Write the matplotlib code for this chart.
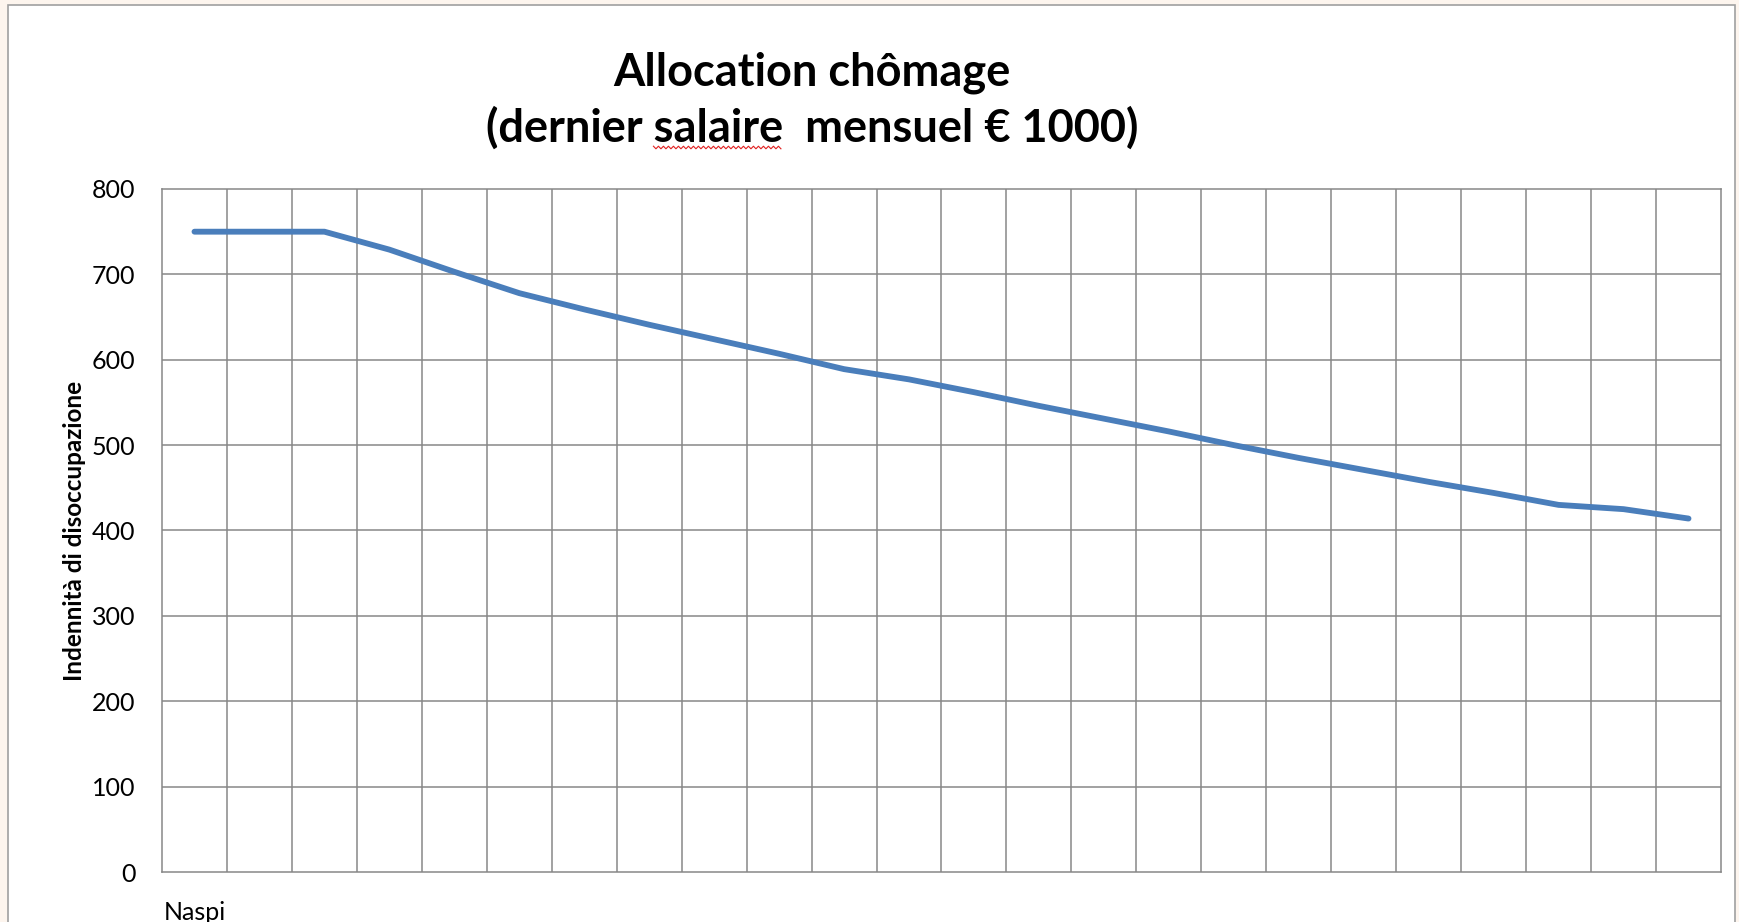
#!/usr/bin/env python
# -*- coding: utf-8 -*-

'''
    Allocation chomage (Naspi) - monthly benefit over 24 months
    for a last monthly salary of 1000 EUR.
'''

import numpy as np
import matplotlib
matplotlib.use("Agg")
import matplotlib.pyplot as plt
from matplotlib.patches import Rectangle

# Chart data
months = list(range(24))
benefit = [750, 750, 750, 729, 703, 678, 659, 641, 624, 607, 589, 577,
           562, 546, 531, 516, 500, 485, 471, 457, 444, 430, 425, 414]
x_labels = ["Naspi"] + [""] * 23
y_ticks = [0, 100, 200, 300, 400, 500, 600, 700, 800]

title_lines = ["Allocation chômage", "(dernier salaire  mensuel € 1000)"]
y_label = "Indennità di disoccupazione"


def main():

    plt.rcParams['font.family'] = ['Lato', 'DejaVu Sans']

    W, H = 1739, 922
    fig = plt.figure(figsize=(W / 100, H / 100), dpi=100)
    fig.patch.set_facecolor("#FDF5EE")

    # white chart area with grey frame
    frame = Rectangle((8 / W, -0.05), (1735 - 8) / W, 1.05 - 5 / H,
                      transform=fig.transFigure, facecolor="white",
                      edgecolor="#A0A0A0", linewidth=1.2, zorder=-5)
    fig.patches.append(frame)

    ax = fig.add_axes([162 / W, 1 - 872 / H, (1721 - 162) / W, (872 - 189) / H])
    ax.set_zorder(2)
    ax.set_facecolor("white")

    ax.plot(months, benefit, color="#4A7EBB", linewidth=4.2,
            solid_capstyle="round", solid_joinstyle="round", zorder=3)

    ax.set_xlim(-0.5, len(months) - 0.5)
    ax.set_ylim(0, 800)

    # category boundaries as vertical grid lines
    for k in range(1, len(months)):
        ax.axvline(k - 0.5, color="#878787", linewidth=1.1, zorder=1)
    for v in y_ticks[1:-1]:
        ax.axhline(v, color="#878787", linewidth=1.1, zorder=1)

    for s in ax.spines.values():
        s.set_color("#878787")
        s.set_linewidth(1.1)

    ax.set_yticks(y_ticks)
    ax.set_xticks(months)
    ax.set_xticklabels(x_labels)
    ax.tick_params(axis="both", length=0, labelsize=18, colors="black")
    ax.tick_params(axis="y", pad=19)
    ax.tick_params(axis="x", pad=21)

    ax.set_ylabel(y_label, fontsize=17.5, fontweight="bold", labelpad=4)

    # two-line title, one baseline per line
    tx = 812 / W
    fig.text(tx, 1 - 86 / H, title_lines[0], ha="center", va="baseline",
             fontsize=32.5, fontweight="bold")
    t2 = fig.text(tx, 1 - 142 / H, title_lines[1], ha="center", va="baseline",
                  fontsize=32.5, fontweight="bold")

    # red spell-check squiggle under "salaire"
    fig.canvas.draw()
    r = fig.canvas.get_renderer()
    box = t2.get_window_extent(r)
    words = title_lines[1].split(" ")
    tmp = fig.text(0, 0, words[0] + " ", fontsize=32.5, fontweight="bold")
    x0 = box.x0 + tmp.get_window_extent(r).width
    tmp.set_text(words[0] + " " + words[1])
    x1 = box.x0 + tmp.get_window_extent(r).width
    tmp.remove()
    sx = np.arange(x0, x1, 2.5)
    sy = (H - 147.5) + np.where(np.arange(len(sx)) % 2 == 0, 1.3, -1.3)
    fig.add_artist(plt.Line2D(sx / W, sy / H, transform=fig.transFigure,
                              color="#E02020", linewidth=0.8))

    fig.savefig("out.png", dpi=100, facecolor=fig.get_facecolor())


if __name__ == "__main__":

    main()
